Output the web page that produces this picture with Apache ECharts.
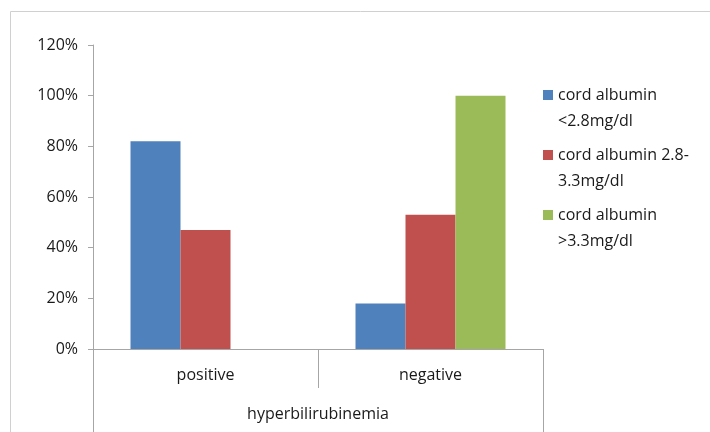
<!DOCTYPE html>
<html>
<head>
<meta charset="utf-8">
<style>
  html, body { margin: 0; padding: 0; background: #fff; }
  #chart { width: 710px; height: 432px; }
</style>
<script src="https://cdn.jsdelivr.net/npm/echarts@6/dist/echarts.min.js"></script>
</head>
<body>
<div id="chart"></div>
<script>
// Share of newborns (%) per cord albumin group, split by hyperbilirubinemia outcome
const categories = ['positive', 'negative'];
const groupLabel = ['hyperbilirubinemia'];
const seriesNames = [
  'cord albumin\n<2.8mg/dl',
  'cord albumin 2.8-\n3.3mg/dl',
  'cord albumin\n>3.3mg/dl'
];
const albuminLow = [82, 18];
const albuminMid = [47, 53];
const albuminHigh = [0, 100];
const yTicks = { min: 0, max: 120, interval: 20 };

const colors = ['#4f81bd', '#c0504d', '#9bbb59'];
const axisGray = '#a6a6a6';
const textColor = '#1a1a1a';
const font = '"Open Sans", sans-serif';

const chart = echarts.init(document.getElementById('chart'), null, { renderer: 'canvas' });

const values = [albuminLow, albuminMid, albuminHigh];

chart.setOption({
  animation: false,
  color: colors,
  textStyle: { fontFamily: font },
  graphic: [{
    type: 'rect',
    silent: true,
    shape: { x: 10.5, y: 11.5, width: 760, height: 480 },
    style: { fill: 'none', stroke: '#d0d0d0', lineWidth: 1 }
  }],
  grid: { left: 93, right: 167, top: 45, bottom: 83 },
  legend: {
    orient: 'vertical',
    left: 543,
    top: 56,
    padding: 0,
    itemWidth: 10,
    itemHeight: 10,
    itemGap: -18,
    icon: 'rect',
    data: seriesNames,
    // a blank leading line keeps the swatch level with the first text line
    formatter: name => ' \n' + name,
    textStyle: {
      fontFamily: font,
      fontSize: 16,
      color: textColor,
      lineHeight: 26
    }
  },
  xAxis: [{
    type: 'category',
    data: categories,
    position: 'bottom',
    axisLine: { show: true, lineStyle: { color: axisGray, width: 1 } },
    axisTick: { show: true, interval: 0, length: 39, lineStyle: { color: axisGray } },
    axisLabel: { interval: 0, margin: 18, fontSize: 16, color: textColor, fontFamily: font },
    splitLine: { show: false }
  }, {
    type: 'category',
    data: groupLabel,
    position: 'bottom',
    axisLine: { show: false },
    axisTick: { show: true, interval: 0, length: 85, lineStyle: { color: axisGray } },
    axisLabel: { interval: 0, margin: 57, fontSize: 16, color: textColor, fontFamily: font },
    splitLine: { show: false }
  }],
  yAxis: {
    type: 'value',
    min: yTicks.min,
    max: yTicks.max,
    interval: yTicks.interval,
    axisLine: { show: true, lineStyle: { color: axisGray, width: 1 } },
    axisTick: { show: true, length: 5, lineStyle: { color: axisGray } },
    axisLabel: { formatter: '{value}%', margin: 15, fontSize: 16, color: textColor, fontFamily: font },
    splitLine: { show: false }
  },
  series: seriesNames.map((name, i) => ({
    name: name,
    type: 'bar',
    xAxisIndex: 0,
    data: values[i],
    barGap: '0%',
    barCategoryGap: '33.33%',
    itemStyle: { color: colors[i] }
  }))
});
</script>
</body>
</html>
